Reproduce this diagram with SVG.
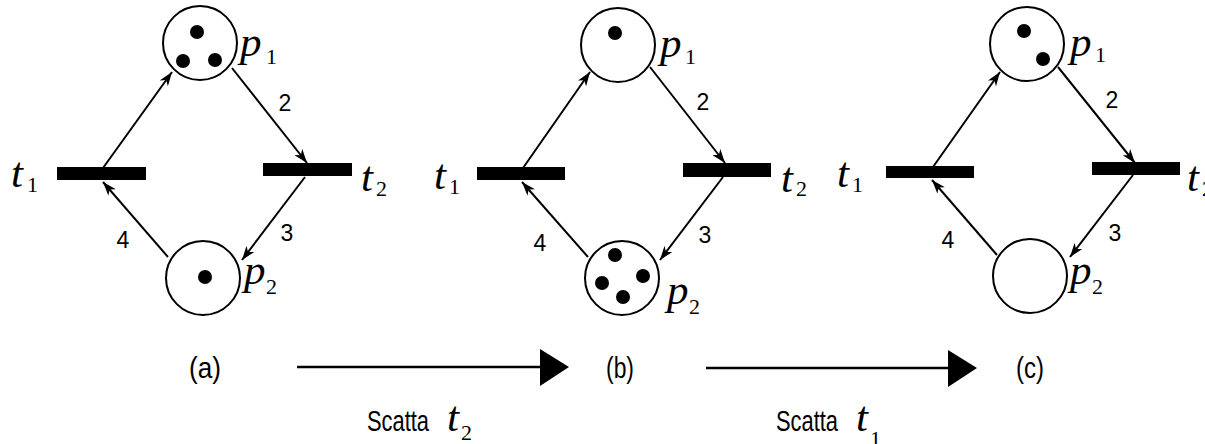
<svg xmlns="http://www.w3.org/2000/svg" width="1205" height="444" viewBox="0 0 1205 444">
<defs>
<marker id="ah" markerUnits="userSpaceOnUse" viewBox="0 0 14 10" refX="14" refY="5" markerWidth="14" markerHeight="10" orient="auto">
<path d="M0,0 L14,5 L0,10 L4,5 z" fill="#000"/>
</marker>
<style>
.pl{fill:#fff;stroke:#000;stroke-width:2}
.tk{fill:#000}
.tr{fill:#000}
.arc{stroke:#000;stroke-width:2;fill:none;marker-end:url(#ah)}
.it{font-family:"Liberation Serif","Times New Roman",serif;font-style:italic;font-size:43px;fill:#000}
.sb{font-family:"Liberation Serif","Times New Roman",serif;font-size:22px;fill:#000}
.w{font-family:"Liberation Sans",Arial,sans-serif;font-size:23px;fill:#000;text-anchor:middle}
.cap{font-family:"Liberation Sans",Arial,sans-serif;font-size:29px;fill:#000}
.big{stroke:#000;stroke-width:2.6}
</style>
</defs>
<rect width="1205" height="444" fill="#fff"/>

<g id="connectors">
<line class="arc" x1="103" y1="168" x2="172" y2="72"/>
<line class="arc" x1="232" y1="68" x2="307" y2="163"/>
<line class="arc" x1="305" y1="177" x2="242" y2="260"/>
<line class="arc" x1="168" y1="257" x2="103" y2="182"/>
<line class="arc" x1="523" y1="168" x2="590" y2="72"/>
<line class="arc" x1="650" y1="67" x2="725" y2="163"/>
<line class="arc" x1="723" y1="177" x2="660" y2="260"/>
<line class="arc" x1="588" y1="257" x2="522" y2="182"/>
<line class="arc" x1="933" y1="167" x2="1000" y2="72"/>
<line class="arc" x1="1058" y1="67" x2="1135" y2="163"/>
<line class="arc" x1="1133" y1="175" x2="1070" y2="257"/>
<line class="arc" x1="997" y1="255" x2="932" y2="180"/>
<text class="w" x="285" y="111">2</text>
<text class="w" x="287" y="241">3</text>
<text class="w" x="123" y="248">4</text>
<text class="w" x="703" y="110">2</text>
<text class="w" x="705" y="243">3</text>
<text class="w" x="540" y="251">4</text>
<text class="w" x="1112" y="108">2</text>
<text class="w" x="1115" y="241">3</text>
<text class="w" x="948" y="248">4</text>
<line class="big" x1="297" y1="367" x2="542" y2="367"/>
<polygon points="540,349 569,367 540,386" fill="#000"/>
<line class="big" x1="706" y1="368" x2="950" y2="368"/>
<polygon points="948,350 977,368 948,387" fill="#000"/>
</g>

<g id="a_p1">
<circle class="pl" cx="200" cy="43" r="37"/>
<circle class="tk" cx="197" cy="32" r="7"/>
<circle class="tk" cx="183" cy="61" r="7"/>
<circle class="tk" cx="215" cy="60" r="7"/>
<text class="it" x="240" y="56">p</text><text class="sb" x="266" y="64">1</text>
</g>
<g id="a_p2">
<circle class="pl" cx="203" cy="278" r="37"/>
<circle class="tk" cx="205" cy="277" r="7"/>
<text class="it" x="244" y="284">p</text><text class="sb" x="266" y="294">2</text>
</g>
<g id="a_t1">
<rect class="tr" x="57" y="167" width="89" height="13"/>
<text class="it" x="11" y="187">t</text><text class="sb" x="27" y="192">1</text>
</g>
<g id="a_t2">
<rect class="tr" x="263" y="163" width="89" height="13"/>
<text class="it" x="361" y="191">t</text><text class="sb" x="376" y="196">2</text>
</g>

<g id="b_p1">
<circle class="pl" cx="618" cy="45" r="37"/>
<circle class="tk" cx="615" cy="33" r="7"/>
<text class="it" x="660" y="57">p</text><text class="sb" x="685" y="64">1</text>
</g>
<g id="b_p2">
<circle class="pl" cx="622" cy="278" r="37"/>
<circle class="tk" cx="615" cy="255" r="7"/>
<circle class="tk" cx="602" cy="283" r="7"/>
<circle class="tk" cx="643" cy="276" r="7"/>
<circle class="tk" cx="623" cy="297" r="7"/>
<text class="it" x="667" y="304">p</text><text class="sb" x="689" y="314">2</text>
</g>
<g id="b_t1">
<rect class="tr" x="477" y="167" width="88" height="13"/>
<text class="it" x="434" y="189">t</text><text class="sb" x="449" y="194">1</text>
</g>
<g id="b_t2">
<rect class="tr" x="683" y="163" width="88" height="14"/>
<text class="it" x="781" y="192">t</text><text class="sb" x="796" y="196">2</text>
</g>

<g id="c_p1">
<circle class="pl" cx="1027" cy="44" r="37"/>
<circle class="tk" cx="1024" cy="31" r="7"/>
<circle class="tk" cx="1043" cy="59" r="7"/>
<text class="it" x="1070" y="56">p</text><text class="sb" x="1095" y="62">1</text>
</g>
<g id="c_p2">
<circle class="pl" cx="1030" cy="276" r="37"/>
<text class="it" x="1070" y="284">p</text><text class="sb" x="1092" y="294">2</text>
</g>
<g id="c_t1">
<rect class="tr" x="886" y="166" width="88" height="12"/>
<text class="it" x="837" y="187">t</text><text class="sb" x="852" y="192">1</text>
</g>
<g id="c_t2">
<rect class="tr" x="1092" y="162" width="88" height="13"/>
<text class="it" x="1187" y="191">t</text><text class="sb" x="1202" y="196">2</text>
</g>

<g id="captions">
<text class="cap" x="189" y="378" textLength="32" lengthAdjust="spacingAndGlyphs">(a)</text>
<text class="cap" x="606" y="378" textLength="28" lengthAdjust="spacingAndGlyphs">(b)</text>
<text class="cap" x="1016" y="378" textLength="28" lengthAdjust="spacingAndGlyphs">(c)</text>
<text class="cap" x="367" y="431" textLength="62" lengthAdjust="spacingAndGlyphs">Scatta</text>
<text class="it" x="447" y="431">t</text><text class="sb" x="461" y="440">2</text>
<text class="cap" x="776" y="431" textLength="62" lengthAdjust="spacingAndGlyphs">Scatta</text>
<text class="it" x="856" y="431">t</text><text class="sb" x="870" y="446">1</text>
</g>
</svg>
